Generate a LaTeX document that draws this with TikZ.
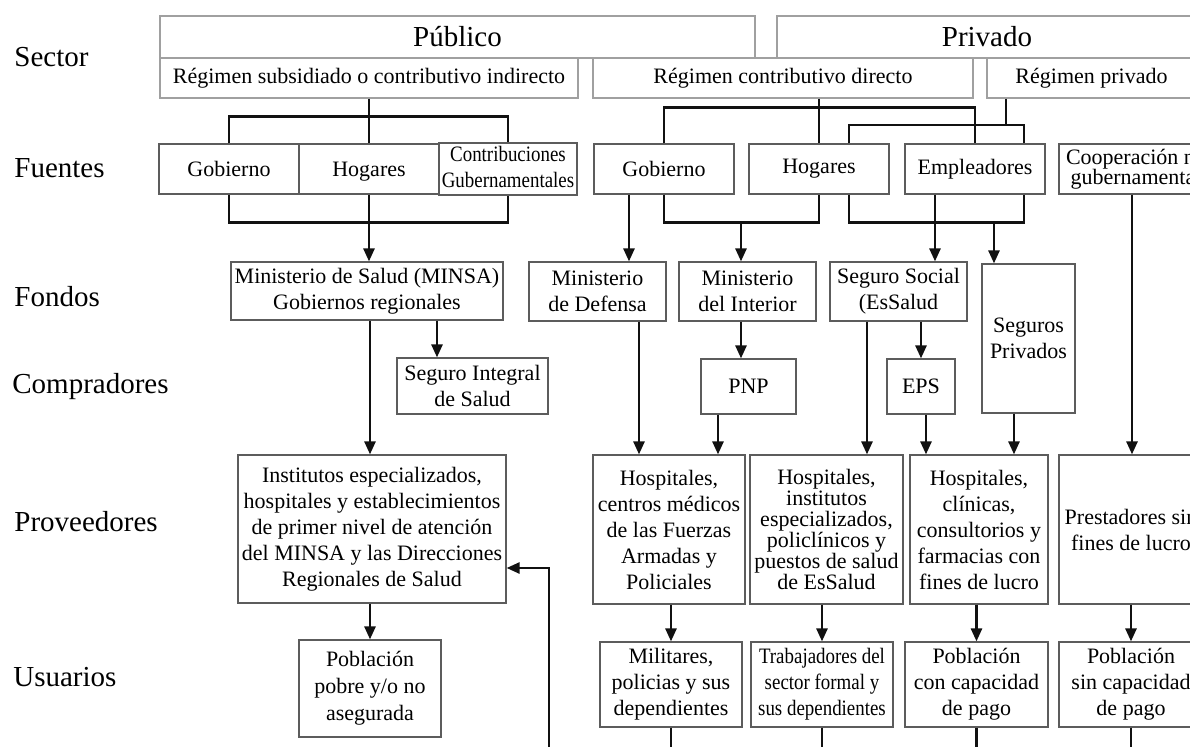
\documentclass[tikz,border=0pt]{standalone}
\usepackage{fontspec}
\usepackage{graphicx}
\setmainfont{Liberation Serif}
\usetikzlibrary{arrows.meta, positioning, calc}
\definecolor{ink}{HTML}{111111}
\definecolor{frameGrey}{HTML}{a0a0a0}
\definecolor{boxGrey}{HTML}{5c5c5c}
\def\narrow#1{\scalebox{0.86}[1]{\begin{tabular}{@{}c@{}}#1\end{tabular}}}

\begin{document}
\begin{tikzpicture}[
    x=0.5pt, y=-0.5pt,
    font=\fontsize{11}{13}\selectfont,
    rowlabel/.style={anchor=west, inner sep=0pt, font=\fontsize{14.5}{17}\selectfont},
    sectorbox/.style={draw=frameGrey, line width=0.6pt, inner sep=0pt, align=center},
    box/.style={draw=boxGrey, line width=0.6pt, inner sep=0pt, align=center},
    wh/.style 2 args={minimum width=#1*0.5pt, minimum height=#2*0.5pt},
    link/.style={draw=ink, line width=1.3pt},
    arr/.style={link, -{Triangle[length=6.5pt,width=5.5pt]}},
    ]

\useasboundingbox (0,0) rectangle (1190,746);
\clip (0,0) rectangle (1190,746);

% ====================================================================
% Row labels
% ====================================================================
\node[rowlabel] (lblSector)  at (14,57)  {Sector};
\node[rowlabel] (lblFuentes) at (14,168) {Fuentes};
\node[rowlabel] (lblFondos)  at (14,297) {Fondos};
\node[rowlabel] (lblCompra)  at (12,387) {Compradores};
\node[rowlabel] (lblProv)    at (14,522) {Proveedores};
\node[rowlabel] (lblUsu)     at (13,677) {Usuarios};

% ====================================================================
% Sector
% ====================================================================
\node[sectorbox, wh={595}{42}, font=\fontsize{14.5}{17}\selectfont] (publico) at (457.5,37) {Público};
\node[sectorbox, wh={420}{42}, font=\fontsize{14.5}{17}\selectfont] (privado) at (987,37) {Privado};
\node[sectorbox, wh={418}{40}] (regSub)  at (369,78)    {Régimen subsidiado o contributivo indirecto};
\node[sectorbox, wh={380}{40}] (regCon)  at (783,78)    {Régimen contributivo directo};
\node[sectorbox, wh={209}{40}] (regPriv) at (1091.5,78) {Régimen privado};

% ====================================================================
% Fuentes
% ====================================================================
\node[box, wh={140}{50}] (gobPub)  at (229,169)  {Gobierno};
\node[box, wh={140}{50}, text depth=0pt] (hogPub) at (369,169) {Hogares};
\node[box, wh={138}{50}] (contrib) at (508,169)  {\narrow{Contribuciones\\Gubernamentales}};
\node[box, wh={140}{50}] (gobPriv) at (664,169)  {Gobierno};
\node[box, wh={140}{50}] (hogPriv) at (819,169)  {Hogares};
\node[box, wh={140}{50}] (empl)    at (975,169)  {Empleadores};
\node[box, wh={154}{50}, font=\fontsize{11}{10}\selectfont] (coop) at (1136,169) {Cooperación no\\gubernamental};

% ====================================================================
% Fondos and Compradores
% ====================================================================
\node[box, wh={272}{58}]  (minsa)    at (367,291)      {Ministerio de Salud (MINSA)\\Gobiernos regionales};
\node[box, wh={137}{59}]  (defensa)  at (597.5,291.5)  {Ministerio\\de Defensa};
\node[box, wh={137}{59}]  (interior) at (747.5,291.5)  {Ministerio\\del Interior};
\node[box, wh={137}{59}]  (essalud)  at (898.5,291.5)  {Seguro Social\\(EsSalud};
\node[box, wh={93}{149}]  (segPriv)  at (1028.5,338.5) {Seguros\\Privados};

\node[box, wh={151}{56}]  (sis) at (472.5,386) {Seguro Integral\\de Salud};
\node[box, wh={95}{55}]   (pnp) at (748.5,386.5) {PNP};
\node[box, wh={68}{55}]   (eps) at (921,386.5)   {EPS};

% ====================================================================
% Proveedores and Usuarios
% ====================================================================
\node[box, wh={268}{148}] (provMinsa) at (372,529)
  {Institutos especializados,\\hospitales y establecimientos\\de primer nivel de atención\\del MINSA y las Direcciones\\Regionales de Salud};
\node[box, wh={152}{149}] (provFFAA) at (669,529.5)
  {Hospitales,\\centros médicos\\de las Fuerzas\\Armadas y\\Policiales};
\node[box, wh={153}{149}, font=\fontsize{11}{10.5}\selectfont] (provEsSalud) at (826.5,529.5)
  {Hospitales,\\institutos\\especializados,\\policlínicos y\\puestos de salud\\de EsSalud};
\node[box, wh={138}{149}] (provLucro) at (979,529.5)
  {Hospitales,\\clínicas,\\consultorios y\\farmacias con\\fines de lucro};
\node[box, wh={144}{149}] (provSinLucro) at (1131,529.5) {Prestadores sin\\fines de lucro};

\node[box, wh={142}{97}, font=\fontsize{11}{13.5}\selectfont] (pobre) at (370,688.5) {Población\\pobre y/o no\\asegurada};
\node[box, wh={142}{85}] (militares)    at (671,684.5)   {Militares,\\policias y sus\\dependientes};
\node[box, wh={142}{85}] (trabajadores) at (822,684.5)   {\narrow{Trabajadores del\\sector formal y\\sus dependientes}};
\node[box, wh={143}{85}] (pobCon)       at (976.5,684.5) {Población\\con capacidad\\de pago};
\node[box, wh={144}{85}] (pobSin)       at (1131,684.5)  {Población\\sin capacidad\\de pago};

% ====================================================================
% Connectors
% ====================================================================
% x positions of the off-centre connectors
\coordinate (xSis)     at (437,0);
\coordinate (xMinsa)   at (370,0);
\coordinate (xDefIn)   at (629,0);
\coordinate (xDefOut)  at (639,0);
\coordinate (xPnpOut)  at (718,0);
\coordinate (xB2L)     at (849,0);
\coordinate (xB2R)     at (1024,0);
\coordinate (xSS)      at (935,0);
\coordinate (xSSOut)   at (867,0);
\coordinate (xEpsOut)  at (926,0);
\coordinate (xSegOut)  at (1014,0);
\coordinate (xCoop)    at (1132,0);
\coordinate (privJoin)   at (1006,125);
\coordinate (govHogJoin) at (741,222);
\coordinate (hogEmpJoin) at (994,222);
\coordinate (fbTurn)     at (549,568);
\coordinate (fbFoot)     at (549,760);

% Public sources
\draw[link] (regSub.south) -- (hogPub.north);
\draw[link] (gobPub.north) -- ++(0,-27) -| (contrib.north);
\draw[link] (gobPub.south) -- ++(0,28) -| (contrib.south);
\draw[arr]  (hogPub.south) -- (minsa.north -| hogPub.south);

% Private sources
\draw[link] (regCon.south -| hogPriv.north) -- (hogPriv.north);
\draw[link] (gobPriv.north) -- ++(0,-36) -| (empl.north);
\draw[link] (regPriv.south -| privJoin) -- (privJoin);
\draw[link] (hogPriv.north -| xB2L) |- (privJoin) -| (empl.north -| xB2R);

\draw[arr]  (gobPriv.south -| xDefIn) -- (defensa.north -| xDefIn);
\draw[link] (gobPriv.south) -- ++(0,28) -| (hogPriv.south);
\draw[arr]  (govHogJoin) -- (interior.north -| govHogJoin);
\draw[link] (hogPriv.south -| xB2L) -- ++(0,28) -| (empl.south -| xB2R);
\draw[arr]  (hogEmpJoin) -- (segPriv.north -| hogEmpJoin);
\draw[arr]  (empl.south -| xSS) -- (essalud.north -| xSS);
\draw[arr]  (coop.south -| xCoop) -- (provSinLucro.north -| xCoop);

% Fondos to compradores and proveedores
\draw[arr] (minsa.south -| xSis) -- (sis.north -| xSis);
\draw[arr] (minsa.south -| xMinsa) -- (provMinsa.north -| xMinsa);
\draw[arr] (interior.south -| govHogJoin) -- (pnp.north -| govHogJoin);
\draw[arr] (essalud.south -| eps.north) -- (eps.north);
\draw[arr] (defensa.south -| xDefOut) -- (provFFAA.north -| xDefOut);
\draw[arr] (pnp.south -| xPnpOut) -- (provFFAA.north -| xPnpOut);
\draw[arr] (essalud.south -| xSSOut) -- (provEsSalud.north -| xSSOut);
\draw[arr] (eps.south -| xEpsOut) -- (provLucro.north -| xEpsOut);
\draw[arr] (segPriv.south -| xSegOut) -- (provLucro.north -| xSegOut);

% Proveedores to usuarios
\draw[arr] (provMinsa.south -| pobre.north) -- (pobre.north);
\foreach \p/\u in {provFFAA/militares, provEsSalud/trabajadores,
                   provLucro/pobCon, provSinLucro/pobSin}{
    \draw[arr]  (\p.south -| \u.north) -- (\u.north);
    \draw[link] (\u.south) -- ++(0,40);
}

% Return path into the MINSA providers
\draw[arr] (fbFoot) |- (provMinsa.east |- fbTurn);

\end{tikzpicture}
\end{document}
